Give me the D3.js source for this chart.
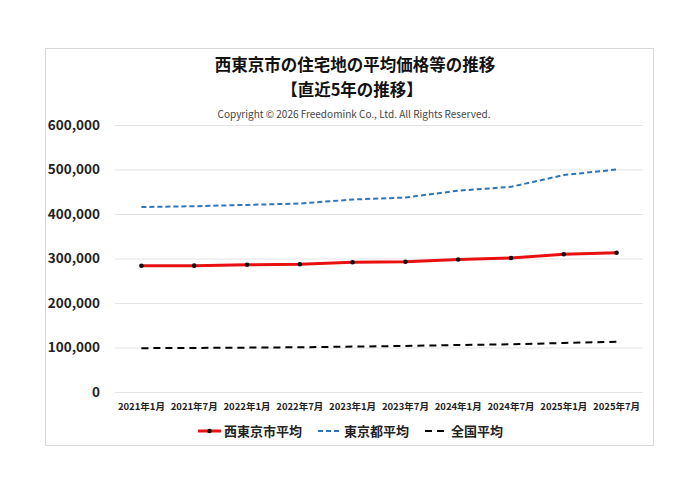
<!DOCTYPE html>
<html>
<head>
<meta charset="utf-8">
<script src="https://cdn.jsdelivr.net/npm/d3@7"></script>
<style>
  body { margin: 0; background: #fff; }
  text { font-family: "Noto Sans CJK JP", "Noto Sans", sans-serif; }
</style>
</head>
<body>
<svg id="chart" width="700" height="495"></svg>
<script>
const categories = ["2021年1月", "2021年7月", "2022年1月", "2022年7月", "2023年1月",
                    "2023年7月", "2024年1月", "2024年7月", "2025年1月", "2025年7月"];
const nishitokyo = [283800, 283900, 286000, 287000, 291500, 292800, 297800, 301000, 309500, 313000];
const tokyo = [415700, 417500, 420500, 423500, 432500, 437000, 452500, 461000, 487500, 500000];
const national = [98500, 99000, 99700, 100500, 102000, 103500, 105600, 107200, 110200, 113000];
const yTicks = [0, 100000, 200000, 300000, 400000, 500000, 600000];

const title1 = "西東京市の住宅地の平均価格等の推移";
const title2 = "【直近5年の推移】";
const copyright = "Copyright © 2026 Freedomink Co., Ltd. All Rights Reserved.";

const series = [
    { name: "西東京市平均", values: nishitokyo, color: "#e81010", width: 3, dash: null, dots: true },
    { name: "東京都平均", values: tokyo, color: "#2e75b6", width: 2, dash: "5,3", dots: false },
    { name: "全国平均", values: national, color: "#000000", width: 2, dash: "7,5", dots: false }
];

const svg = d3.select("#chart");

// frame
svg.append("rect")
    .attr("x", 45.5).attr("y", 48.5)
    .attr("width", 608).attr("height", 397)
    .attr("fill", "#fff").attr("stroke", "#d9d9d9");

const margin = { top: 125, right: 57, bottom: 103, left: 115 };
const width = 700, height = 495;

const x = d3.scaleBand()
    .domain(categories)
    .range([margin.left, width - margin.right]);

const y = d3.scaleLinear()
    .domain([0, 600000])
    .range([height - margin.bottom, margin.top]);

// grid
svg.append("g").selectAll("line")
    .data(yTicks)
    .join("line")
    .attr("x1", margin.left).attr("x2", width - margin.right)
    .attr("y1", d => y(d) + 0.5).attr("y2", d => y(d) + 0.5)
    .attr("stroke", "#e3e3e3").attr("stroke-width", 1);

// y axis labels
const yAxis = svg.append("g")
    .attr("transform", `translate(${margin.left - 12},0)`)
    .call(d3.axisLeft(y).tickValues(yTicks).tickFormat(d3.format(",")).tickSize(0));
yAxis.select(".domain").remove();
yAxis.selectAll("text")
    .attr("font-size", 13.5).attr("font-weight", "bold").attr("fill", "#222")
    .style("font-family", "'Noto Sans CJK JP', sans-serif");

// x axis labels
const xAxis = svg.append("g")
    .attr("transform", `translate(0,${height - margin.bottom + 8})`)
    .call(d3.axisBottom(x).tickSize(0));
xAxis.select(".domain").remove();
xAxis.selectAll("text")
    .attr("font-size", 9.5).attr("font-weight", "bold").attr("fill", "#222")
    .style("font-family", "'Noto Sans CJK JP', sans-serif");

const cx = d => x(d) + x.bandwidth() / 2;

const line = d3.line()
    .x((d, i) => cx(categories[i]))
    .y(d => y(d));

for (let s of series) {
    svg.append("path")
        .datum(s.values)
        .attr("fill", "none")
        .attr("stroke", s.color)
        .attr("stroke-width", s.width)
        .attr("stroke-dasharray", s.dash)
        .attr("d", line);
    if (s.dots) {
        svg.append("g").selectAll("circle")
            .data(s.values)
            .join("circle")
            .attr("cx", (d, i) => cx(categories[i]))
            .attr("cy", d => y(d))
            .attr("r", 2.3)
            .attr("fill", "#111");
    }
}

// titles
svg.append("text")
    .attr("x", 355).attr("y", 71)
    .attr("text-anchor", "middle")
    .attr("font-size", 16.5).attr("font-weight", "bold").attr("fill", "#111")
    .text(title1);
svg.append("text")
    .attr("x", 352).attr("y", 96)
    .attr("text-anchor", "middle")
    .attr("font-size", 16.5).attr("font-weight", "bold").attr("fill", "#111")
    .text(title2);
svg.append("text")
    .attr("x", 354).attr("y", 118)
    .attr("text-anchor", "middle")
    .attr("font-size", 10).attr("fill", "#444")
    .text(copyright);

// legend
const legendX = [198, 318, 425];
const legend = svg.append("g").selectAll("g")
    .data(series)
    .join("g")
    .attr("transform", (d, i) => `translate(${legendX[i]},431)`);
legend.append("line")
    .attr("x1", 0).attr("x2", 23)
    .attr("stroke", d => d.color)
    .attr("stroke-width", d => d.width)
    .attr("stroke-dasharray", d => d.dash);
legend.filter(d => d.dots).append("circle")
    .attr("cx", 11.5).attr("r", 2.3).attr("fill", "#111");
legend.append("text")
    .attr("x", 26).attr("y", 5)
    .attr("font-size", 13).attr("font-weight", "bold").attr("fill", "#222")
    .text(d => d.name);
</script>
</body>
</html>
